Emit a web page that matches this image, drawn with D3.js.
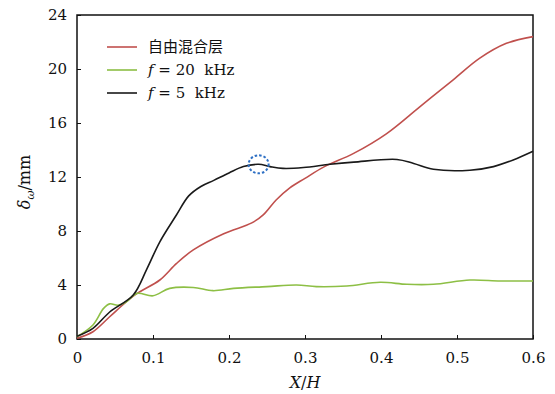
<!DOCTYPE html>
<html>
<head>
<meta charset="utf-8">
<script src="https://cdn.jsdelivr.net/npm/d3@7"></script>
<style>
  body { margin: 0; background: #fff; }
  svg text { font-family: "DejaVu Serif", "Liberation Serif", serif; }
</style>
</head>
<body>
<svg id="chart" width="555" height="394"></svg>
<script>
// données
var seriesNames = ["自由混合层", "f = 20 kHz", "f = 5 kHz"];
var seriesColors = ["#c0504d", "#8dbf45", "#1a1a1a"];

var redX = [0, 0.021, 0.043, 0.065, 0.079, 0.109, 0.131, 0.153, 0.193, 0.23, 0.245, 0.262, 0.28, 0.3, 0.325, 0.364, 0.407, 0.451, 0.495, 0.53, 0.565, 0.6];
var redY = [0.05, 0.54, 1.65, 2.76, 3.38, 4.37, 5.6, 6.6, 7.8, 8.6, 9.2, 10.3, 11.2, 11.9, 12.75, 13.75, 15.2, 17.2, 19.2, 20.8, 21.9, 22.4];

var greenX = [0, 0.021, 0.035, 0.043, 0.054, 0.065, 0.079, 0.1, 0.122, 0.153, 0.179, 0.206, 0.25, 0.289, 0.315, 0.355, 0.399, 0.434, 0.469, 0.517, 0.557, 0.6];
var greenY = [0.17, 1.04, 2.27, 2.6, 2.5, 2.76, 3.38, 3.2, 3.75, 3.82, 3.58, 3.75, 3.88, 4.0, 3.88, 3.93, 4.2, 4.05, 4.05, 4.37, 4.3, 4.3];

var blackX = [0, 0.021, 0.043, 0.074, 0.092, 0.109, 0.131, 0.147, 0.163, 0.18, 0.2, 0.219, 0.239, 0.254, 0.271, 0.298, 0.333, 0.364, 0.421, 0.443, 0.469, 0.517, 0.548, 0.574, 0.6];
var blackY = [0.2, 0.79, 2.0, 3.26, 5.2, 7.2, 9.2, 10.6, 11.3, 11.75, 12.3, 12.77, 12.94, 12.77, 12.64, 12.7, 12.94, 13.1, 13.3, 13.0, 12.57, 12.5, 12.77, 13.26, 13.9];

var xTicks = [0, 0.1, 0.2, 0.3, 0.4, 0.5, 0.6];
var yTicks = [0, 4, 8, 12, 16, 20, 24];
var circleAt = [0.239, 12.94];

var serif = "'DejaVu Serif', 'Liberation Serif', serif";

var margin = {top: 15, right: 22, bottom: 55, left: 77};
var width = 555 - margin.left - margin.right;
var height = 394 - margin.top - margin.bottom;

var svg = d3.select("#chart");
var g = svg.append("g")
  .attr("transform", "translate(" + margin.left + "," + margin.top + ")");

var x = d3.scaleLinear().domain([0, 0.6]).range([0, width]);
var y = d3.scaleLinear().domain([0, 24]).range([height, 0]);

// axes, graduations vers l'intérieur
var xAxis = d3.axisBottom(x).tickValues(xTicks).tickSize(-4).tickSizeOuter(0)
  .tickPadding(10).tickFormat(function(d) { return d === 0 ? "0" : d3.format(".1f")(d); });
var yAxis = d3.axisLeft(y).tickValues(yTicks).tickSize(-4).tickSizeOuter(0).tickPadding(10);

var gx = g.append("g").attr("transform", "translate(0," + height + ")").call(xAxis);
var gy = g.append("g").call(yAxis);
[gx, gy].forEach(function(a) {
  a.attr("font-family", serif);
  a.select(".domain").remove();
  a.selectAll("line").attr("stroke", "#111").attr("stroke-width", 1);
  a.selectAll("text").attr("font-size", 15).attr("fill", "#111")
    .style("font-family", serif);
});
gx.selectAll("text").attr("dy", "0.9em");

g.append("rect")
  .attr("width", width).attr("height", height)
  .attr("fill", "none").attr("stroke", "#111").attr("stroke-width", 1.5);

var line = d3.line()
  .x(function(d) { return x(d[0]); })
  .y(function(d) { return y(d[1]); })
  .curve(d3.curveCatmullRom.alpha(0.5));

var series = [
  d3.zip(redX, redY),
  d3.zip(greenX, greenY),
  d3.zip(blackX, blackY)
];

g.selectAll(".serie")
  .data(series)
  .enter().append("path")
  .attr("class", "serie")
  .attr("d", line)
  .attr("fill", "none")
  .attr("stroke", function(d, i) { return seriesColors[i]; })
  .attr("stroke-width", 1.6);

// cercle pointillé
g.append("ellipse")
  .attr("cx", x(circleAt[0]))
  .attr("cy", y(circleAt[1]))
  .attr("rx", 10).attr("ry", 9)
  .attr("fill", "none")
  .attr("stroke", "#2d6fc4")
  .attr("stroke-width", 2)
  .attr("stroke-dasharray", "2.5,2");

// légende
var legend = g.append("g").attr("transform", "translate(30,32)");
seriesNames.forEach(function(name, i) {
  var row = legend.append("g").attr("transform", "translate(0," + (i * 23) + ")");
  row.append("line")
    .attr("x1", 0).attr("x2", 30)
    .attr("stroke", seriesColors[i]).attr("stroke-width", 1.6);
  var t = row.append("text").attr("x", 41).attr("y", 5).attr("font-size", 15).attr("fill", "#111")
    .style("font-family", serif);
  if (i === 0) {
    t.style("font-family", "'Noto Sans CJK SC', sans-serif").attr("font-size", 15).text(name);
  } else {
    t.append("tspan").attr("font-style", "italic").text("f");
    t.append("tspan").attr("xml:space", "preserve").text(i === 1 ? " = 20  kHz" : " = 5  kHz");
  }
});

// titres des axes
var xl = svg.append("text")
  .attr("x", margin.left + width / 2)
  .attr("y", 388)
  .attr("text-anchor", "middle")
  .attr("font-size", 16).attr("fill", "#111")
  .style("font-family", serif);
xl.append("tspan").attr("font-style", "italic").text("X");
xl.append("tspan").text("/");
xl.append("tspan").attr("font-style", "italic").text("H");

var yl = svg.append("text")
  .attr("transform", "translate(30," + (margin.top + height / 2 + 5) + ") rotate(-90)")
  .attr("text-anchor", "middle")
  .attr("font-size", 16).attr("fill", "#111")
  .style("font-family", serif);
yl.append("tspan").attr("font-style", "italic").text("δ");
yl.append("tspan").attr("font-style", "italic").attr("font-size", 11).attr("dy", 4).text("ω");
yl.append("tspan").attr("dy", -4).text("/mm");
</script>
</body>
</html>
